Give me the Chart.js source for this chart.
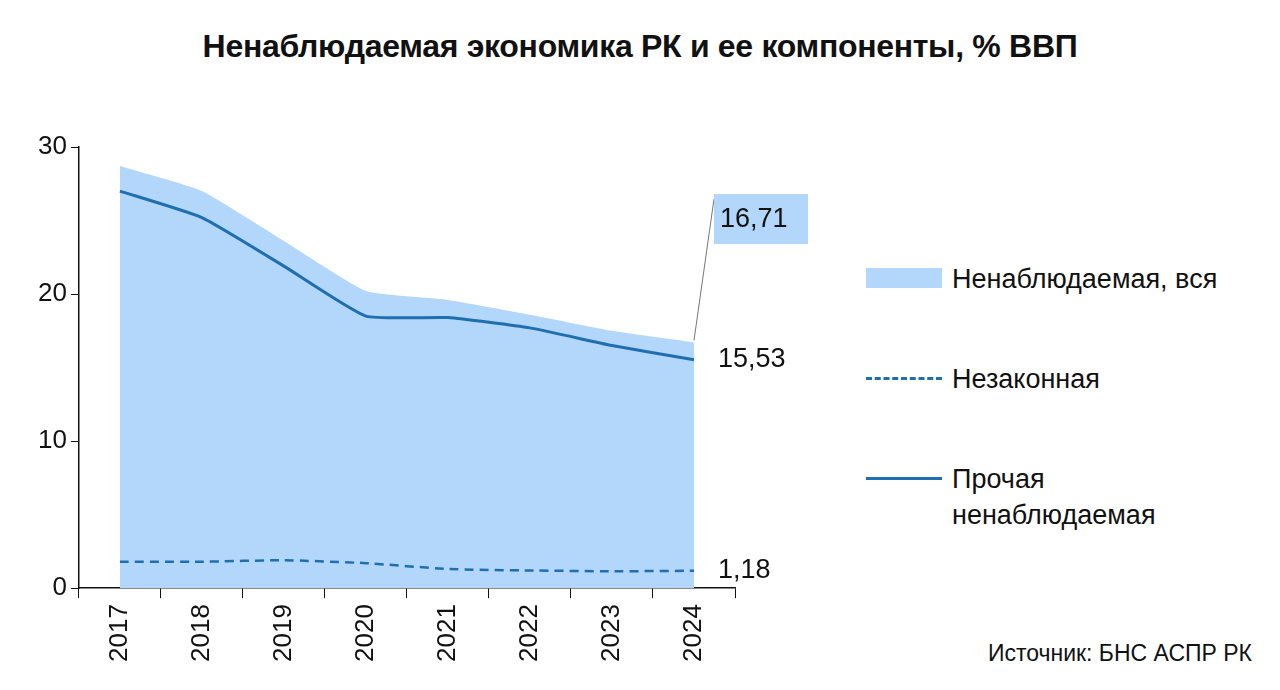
<!DOCTYPE html>
<html><head><meta charset="utf-8">
<script src="https://cdn.jsdelivr.net/npm/chart.js@4"></script>
<style>
body{margin:0;background:#fff;font-family:"Liberation Sans",Arial,sans-serif;}
#wrap{position:relative;width:1280px;height:690px;}
h1{position:absolute;top:28px;left:0;width:1280px;text-align:center;margin:0;font-size:32px;font-weight:bold;color:#111;letter-spacing:-0.3px;}
#cbox{position:absolute;left:0;top:120px;width:830px;height:570px;}
.lg{position:absolute;font-size:27px;color:#111;line-height:36px;}
.src{position:absolute;right:28px;top:640px;font-size:23px;color:#111;}
</style></head><body>
<div id="wrap">
<h1>Ненаблюдаемая экономика РК и ее компоненты, % ВВП</h1>
<div id="cbox"><canvas id="c"></canvas></div>
<div style="position:absolute;left:866px;top:268px;width:76px;height:20px;background:#b3d7fa"></div>
<div class="lg" style="left:952px;top:261px">Ненаблюдаемая, вся</div>
<div style="position:absolute;left:866px;top:377px;width:76px;border-top:3px dashed #1f6fb0"></div>
<div class="lg" style="left:952px;top:361px">Незаконная</div>
<div style="position:absolute;left:866px;top:477px;width:76px;border-top:3px solid #1f6fb0"></div>
<div class="lg" style="left:952px;top:461px">Прочая<br>ненаблюдаемая</div>
<div class="src">Источник: БНС АСПР РК</div>
</div>
<script>
const years = ['2017','2018','2019','2020','2021','2022','2023','2024'];
const totalShare = [28.7, 27.0, 23.6, 20.2, 19.6, 18.6, 17.5, 16.71];
const otherShare = [27.0, 25.2, 21.9, 18.5, 18.4, 17.7, 16.5, 15.53];
const illegalShare = [1.8, 1.8, 1.9, 1.7, 1.3, 1.2, 1.15, 1.18];
const yTicks = [0, 10, 20, 30];

const blue = '#1f6fb0';
const endLabels = {
  id: 'endLabels',
  afterDatasetsDraw(chart) {
    const ctx = chart.ctx, x = chart.scales.x, y = chart.scales.y;
    const last = years.length - 1;
    const px = x.getPixelForValue(last);
    ctx.save();
    ctx.font = '27px "Liberation Sans", Arial';
    ctx.fillStyle = '#111';
    ctx.textBaseline = 'middle';
    const ty = y.getPixelForValue(totalShare[last]);
    const by = y.getPixelForValue(25.1);
    ctx.strokeStyle = '#777'; ctx.lineWidth = 1;
    ctx.beginPath(); ctx.moveTo(px, ty - 2); ctx.lineTo(px + 20, by - 20); ctx.lineTo(px + 24, by - 20); ctx.stroke();
    ctx.fillStyle = '#b3d7fa';
    ctx.fillRect(px + 20, by - 25, 94, 50);
    ctx.fillStyle = '#111';
    ctx.fillText(totalShare[last].toFixed(2).replace('.', ','), px + 26, by);
    ctx.fillText(otherShare[last].toFixed(2).replace('.', ','), px + 24, y.getPixelForValue(otherShare[last]));
    ctx.fillText(illegalShare[last].toFixed(2).replace('.', ','), px + 24, y.getPixelForValue(illegalShare[last]));
    ctx.restore();
  }
};

new Chart(document.getElementById('c'), {
  type: 'line',
  data: {
    labels: years,
    datasets: [
      { data: totalShare, fill: 'origin', backgroundColor: '#b3d7fa', borderWidth: 0, pointRadius: 0, tension: 0.15, order: 3 },
      { data: otherShare, borderColor: blue, borderWidth: 3, fill: false, pointRadius: 0, tension: 0.15, order: 1 },
      { data: illegalShare, borderColor: blue, borderWidth: 2.5, borderDash: [9, 6], fill: false, pointRadius: 0, tension: 0.15, order: 2 }
    ]
  },
  options: {
    responsive: true, maintainAspectRatio: false, animation: false,
    layout: { padding: { left: 34, top: 27, right: 95, bottom: 22 } },
    plugins: { legend: { display: false }, tooltip: { enabled: false } },
    scales: {
      x: {
        offset: true,
        grid: { offset: true, drawOnChartArea: false, tickLength: 10, color: '#111', tickColor: '#111' },
        border: { color: '#111', width: 1.5 },
        ticks: { color: '#111', font: { size: 26, family: '"Liberation Sans", Arial' }, maxRotation: 90, minRotation: 90, padding: 6 }
      },
      y: {
        min: 0, max: 30,
        afterBuildTicks: s => { s.ticks = yTicks.map(v => ({ value: v })); },
        grid: { drawOnChartArea: false, tickLength: 8, tickColor: '#111' },
        border: { color: '#111', width: 1.5 },
        ticks: { color: '#111', font: { size: 26, family: '"Liberation Sans", Arial' }, padding: 4 }
      }
    }
  },
  plugins: [endLabels]
});
</script>
</body></html>
